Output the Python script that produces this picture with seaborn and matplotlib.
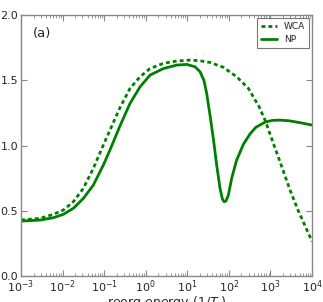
import numpy as np
import pandas as pd
import matplotlib
matplotlib.use("Agg")
import matplotlib.pyplot as plt
import seaborn as sns

# exponents of the reorg energy (x = 10**exp) and read-off curve values
np_exp = [-3.0, -2.54, -2.22, -1.98, -1.74, -1.5, -1.26, -1.02, -0.86, -0.62,
          -0.378, -0.137, 0.103, 0.423, 0.745, 0.986, 1.186, 1.306, 1.4,
          1.466, 1.546, 1.626, 1.707, 1.787, 1.845, 1.883, 1.93, 1.988,
          2.068, 2.188, 2.27, 2.35, 2.51, 2.65, 2.87, 3.05, 3.23, 3.45,
          3.63, 3.8, 4.0]
np_val = [0.421, 0.429, 0.447, 0.473, 0.519, 0.595, 0.697, 0.85, 0.966, 1.15,
          1.323, 1.45, 1.54, 1.59, 1.617, 1.622, 1.604, 1.566, 1.5,
          1.4, 1.234, 1.055, 0.85, 0.672, 0.59, 0.57, 0.575, 0.62,
          0.75, 0.89, 0.95, 1.01, 1.09, 1.14, 1.18, 1.193, 1.195, 1.19,
          1.18, 1.17, 1.157]

wca_exp = [-3.0, -2.54, -2.22, -1.98, -1.74, -1.5, -1.26, -1.02, -0.86, -0.62,
           -0.378, -0.137, 0.103, 0.423, 0.745, 1.066, 1.306, 1.546, 1.867,
           2.19, 2.47, 2.63, 2.71, 2.87, 3.07, 3.27, 3.47, 3.67, 3.91, 4.0]
wca_val = [0.43, 0.442, 0.473, 0.506, 0.57, 0.672, 0.825, 1.004, 1.119, 1.29,
           1.438, 1.527, 1.59, 1.63, 1.648, 1.655, 1.65, 1.637, 1.6,
           1.527, 1.438, 1.35, 1.31, 1.195, 1.017, 0.84, 0.66, 0.5, 0.33, 0.265]

labels = ["WCA", "NP"]
green = "#008000"

sns.set_style("ticks")
plt.rcParams["font.family"] = ["DejaVu Sans"]
plt.rcParams["mathtext.fontset"] = "dejavusans"
plt.rcParams["lines.scale_dashes"] = False

df_np = pd.DataFrame({"x": 10.0 ** np.array(np_exp), "y": np_val})
df_wca = pd.DataFrame({"x": 10.0 ** np.array(wca_exp), "y": wca_val})

fig = plt.figure(figsize=(3.23, 3.02), dpi=100)
ax = fig.add_axes([0.065, 0.086, 0.901, 0.864])

sns.lineplot(data=df_wca, x="x", y="y", ax=ax, color=green, lw=2,
             linestyle=(0, (2.8, 2.2)), label=labels[0])
sns.lineplot(data=df_np, x="x", y="y", ax=ax, color=green, lw=2,
             label=labels[1])

ax.set_xscale("log")
ax.set_xlim(1e-3, 1e4)
ax.set_ylim(0, 2.0)
ax.set_xticks([10.0 ** k for k in range(-3, 5)])
ax.set_yticks([0.0, 0.5, 1.0, 1.5, 2.0])
ax.set_yticklabels(["0.0", "0.5", "1.0", "1.5", "2.0"])
ax.tick_params(which="both", direction="in", top=True, right=True,
               labelsize=8, pad=2, color="#888888")
ax.tick_params(which="major", length=4)
ax.tick_params(which="minor", length=2)
for sp in ax.spines.values():
    sp.set_color("#888888")
    sp.set_linewidth(1.0)

ax.set_xlabel(r"reorg energy ($1/T_r$)", fontsize=9, labelpad=-1)
ax.set_ylabel("")
ax.text(0.04, 0.93, "(a)", transform=ax.transAxes, fontsize=9.5,
        va="center", ha="left")

leg = ax.legend(loc="upper right", fontsize=6.5, frameon=True, fancybox=False,
                handlelength=1.8, handletextpad=0.8, borderpad=0.4,
                labelspacing=0.5, borderaxespad=0.35)
leg.get_frame().set_edgecolor("#555555")
leg.get_frame().set_linewidth(0.8)

fig.savefig("out.png", dpi=100)
